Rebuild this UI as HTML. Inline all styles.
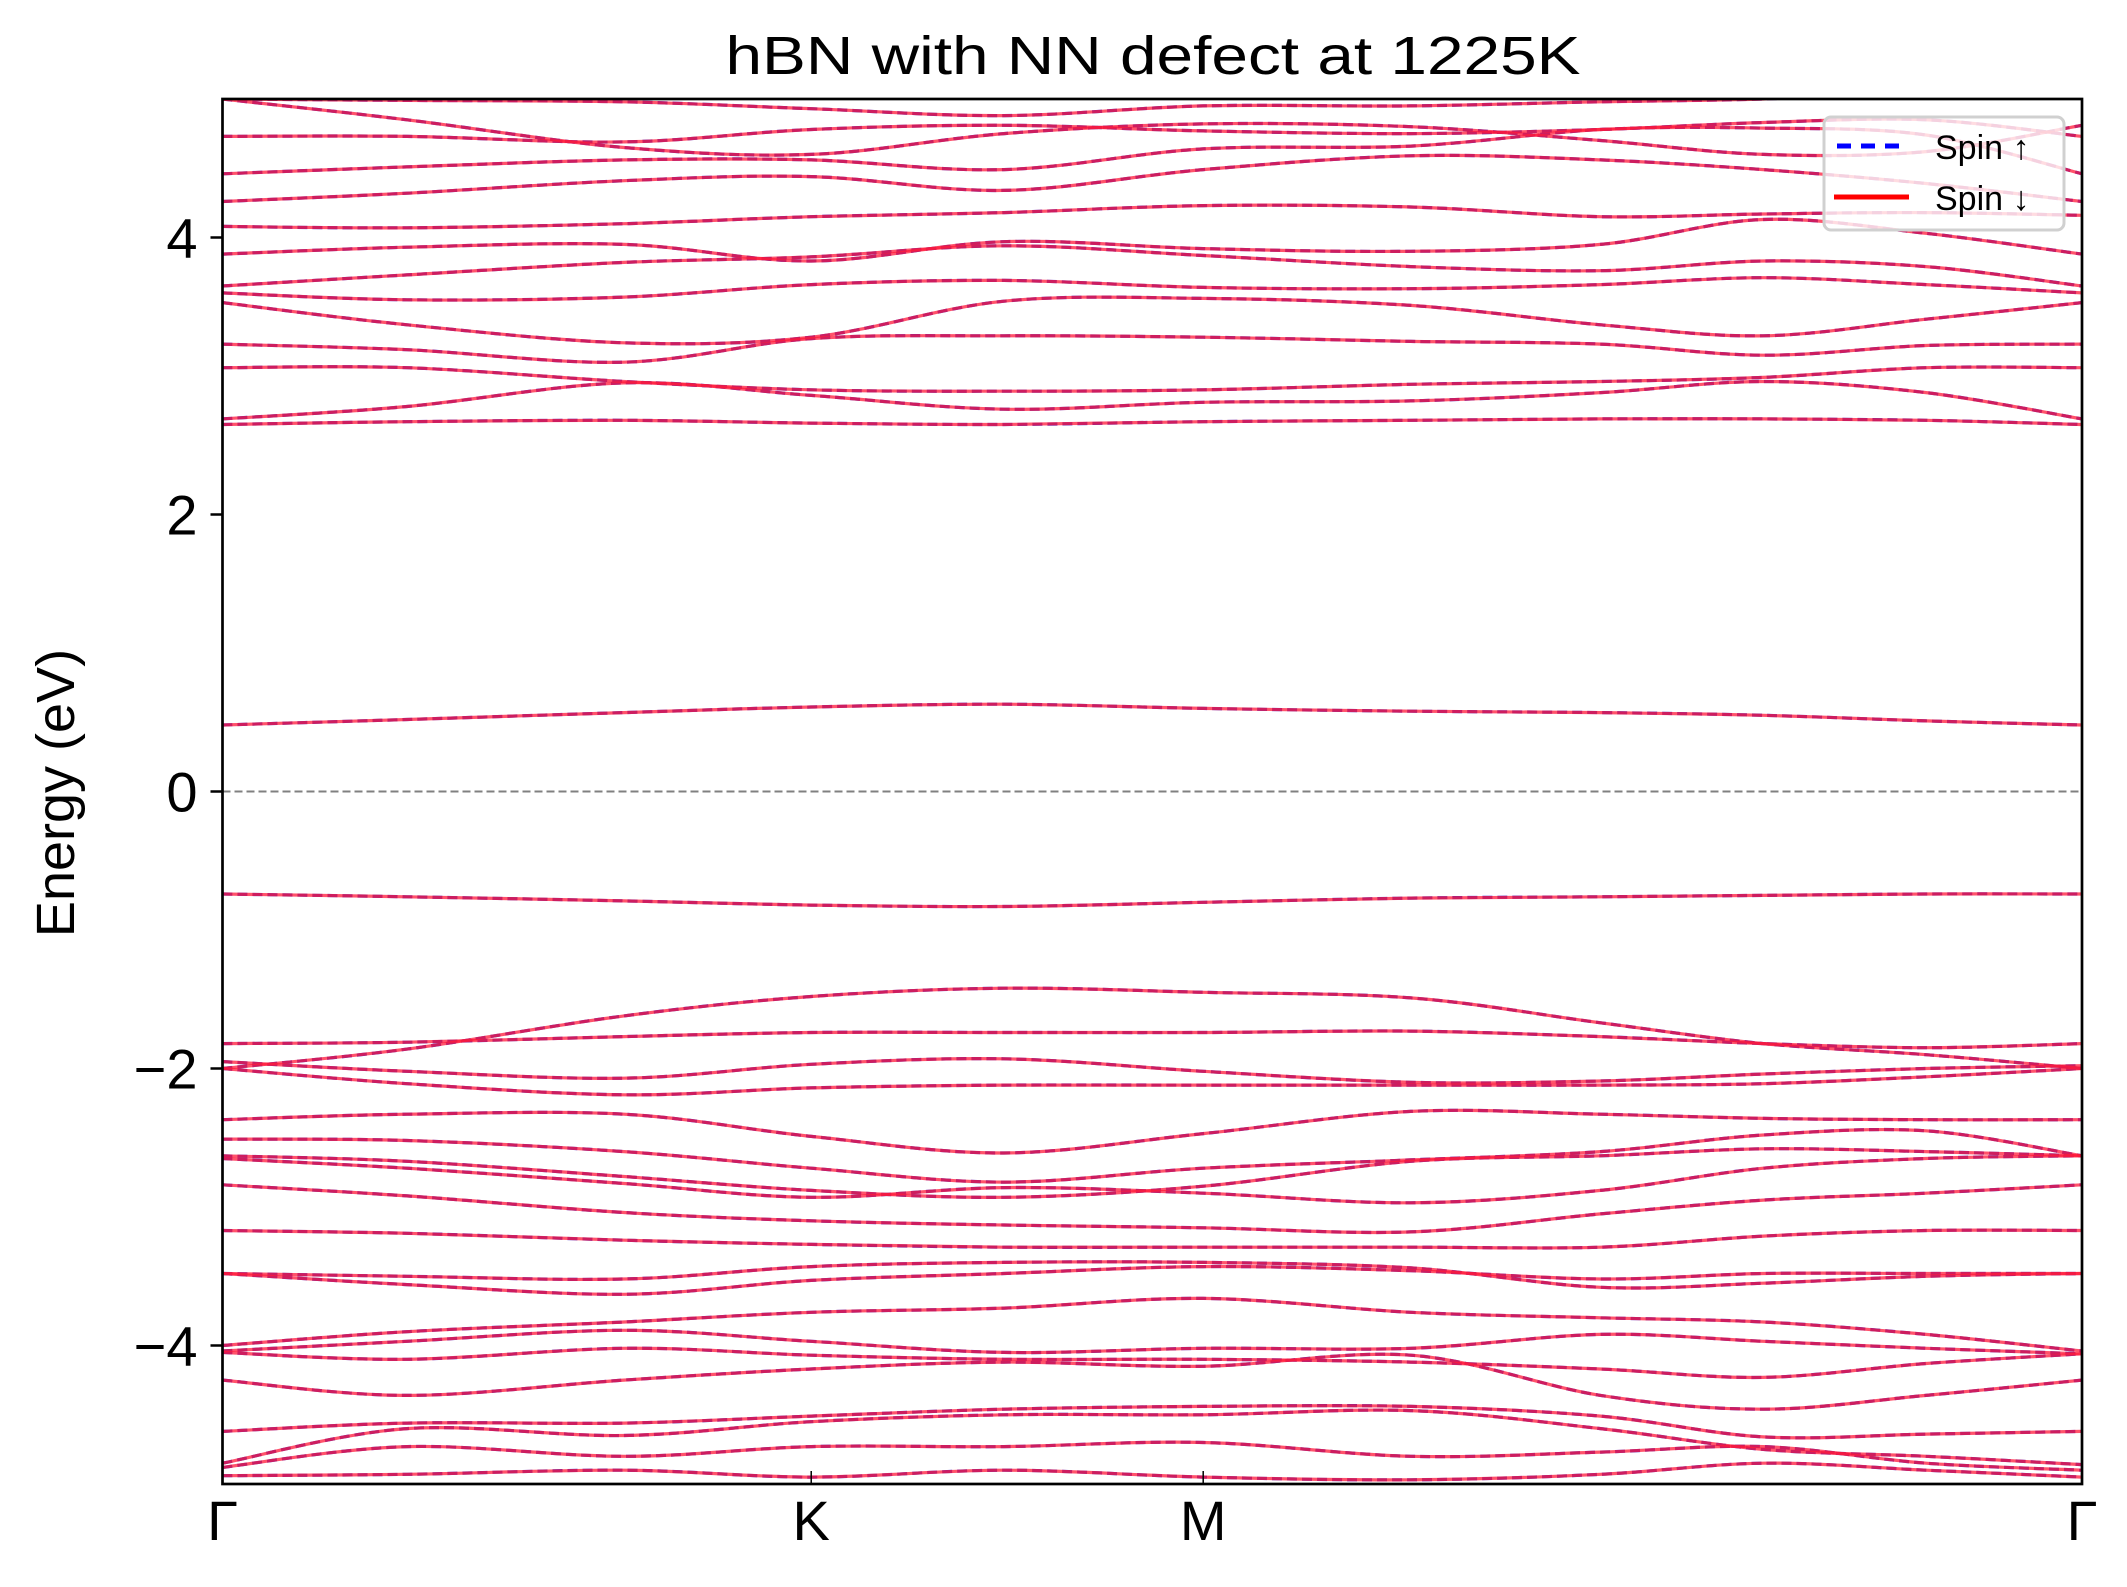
<!DOCTYPE html>
<html><head><meta charset="utf-8"><style>
html,body{margin:0;padding:0;background:#fff;}
svg{display:block;font-family:"Liberation Sans","DejaVu Sans",sans-serif;}
</style></head><body>
<svg id="chart" width="2127" height="1587" viewBox="0 0 2127 1587" xmlns="http://www.w3.org/2000/svg">
<rect width="2127" height="1587" fill="#fff"/>
<text x="1153" y="74" font-size="54" text-anchor="middle" textLength="855" lengthAdjust="spacingAndGlyphs">hBN with NN defect at 1225K</text>
<text transform="translate(74,793) rotate(-90)" font-size="54" text-anchor="middle">Energy (eV)</text>
<g id="bands"></g>
<g id="axes"></g>
<g>
<rect x="1824" y="117" width="240" height="113" rx="7" fill="rgba(255,255,255,0.8)" stroke="#d0d0d0" stroke-width="3"/>
<line x1="1837" y1="146" x2="1906" y2="146" stroke="#0000ff" stroke-width="5" stroke-dasharray="14,10"/>
<text x="1935" y="159" font-size="34">Spin ↑</text>
<line x1="1834" y1="197" x2="1909" y2="197" stroke="#ff0000" stroke-width="5"/>
<text x="1935" y="210" font-size="34">Spin ↓</text>
</g>
</svg>
<script>
const kNodes = [0, 0.0992, 0.2159, 0.3166, 0.4202, 0.5274, 0.639, 0.7411, 0.8286, 0.9161, 1];
const kTickPos = [0, 0.3166, 0.5274, 1];
const kTickLabels = ["Γ", "K", "M", "Γ"];
const yTicks = [-4, -2, 0, 2, 4];
const yTickLabels = ["−4", "−2", "0", "2", "4"];
const bandsUp = [
[0.48,0.52,0.57,0.61,0.63,0.6,0.58,0.57,0.55,0.51,0.48],
[-0.74,-0.76,-0.79,-0.82,-0.83,-0.8,-0.77,-0.76,-0.75,-0.74,-0.74],
[-2.0,-1.86,-1.62,-1.48,-1.42,-1.45,-1.49,-1.67,-1.82,-1.9,-2.0],
[-1.82,-1.81,-1.77,-1.74,-1.74,-1.74,-1.73,-1.77,-1.82,-1.85,-1.82],
[-1.95,-2.02,-2.07,-1.97,-1.93,-2.02,-2.1,-2.09,-2.04,-2.0,-1.98],
[-2.0,-2.11,-2.19,-2.14,-2.12,-2.12,-2.12,-2.12,-2.11,-2.06,-2.0],
[-2.37,-2.33,-2.33,-2.49,-2.61,-2.47,-2.31,-2.33,-2.36,-2.37,-2.37],
[-2.51,-2.52,-2.6,-2.72,-2.82,-2.72,-2.66,-2.6,-2.48,-2.45,-2.63],
[-2.63,-2.67,-2.78,-2.88,-2.93,-2.85,-2.67,-2.63,-2.58,-2.6,-2.63],
[-2.65,-2.72,-2.83,-2.93,-2.86,-2.9,-2.97,-2.88,-2.72,-2.65,-2.63],
[-2.84,-2.92,-3.04,-3.1,-3.13,-3.15,-3.18,-3.05,-2.95,-2.9,-2.84],
[-3.17,-3.19,-3.24,-3.27,-3.29,-3.29,-3.29,-3.29,-3.21,-3.17,-3.17],
[-3.48,-3.56,-3.63,-3.53,-3.48,-3.43,-3.46,-3.52,-3.48,-3.48,-3.48],
[-3.48,-3.5,-3.52,-3.43,-3.4,-3.4,-3.44,-3.58,-3.55,-3.5,-3.48],
[-4.0,-3.9,-3.83,-3.76,-3.73,-3.66,-3.76,-3.8,-3.83,-3.92,-4.04],
[-4.04,-3.97,-3.89,-3.97,-4.05,-4.02,-4.02,-3.92,-3.97,-4.02,-4.06],
[-4.05,-4.1,-4.02,-4.07,-4.1,-4.1,-4.12,-4.17,-4.23,-4.13,-4.06],
[-4.25,-4.36,-4.25,-4.17,-4.12,-4.15,-4.07,-4.36,-4.46,-4.36,-4.25],
[-4.62,-4.56,-4.56,-4.51,-4.46,-4.44,-4.44,-4.51,-4.66,-4.64,-4.62],
[-4.85,-4.6,-4.65,-4.55,-4.5,-4.5,-4.47,-4.6,-4.75,-4.8,-4.86],
[-4.88,-4.73,-4.8,-4.73,-4.73,-4.7,-4.8,-4.77,-4.73,-4.85,-4.9],
[-4.94,-4.93,-4.9,-4.95,-4.9,-4.95,-4.97,-4.93,-4.85,-4.9,-4.95],
[2.65,2.67,2.68,2.66,2.65,2.67,2.68,2.69,2.69,2.68,2.65],
[2.69,2.78,2.95,2.86,2.76,2.81,2.82,2.88,2.96,2.88,2.69],
[3.06,3.06,2.96,2.9,2.89,2.9,2.94,2.96,2.99,3.06,3.06],
[3.23,3.19,3.1,3.27,3.29,3.28,3.25,3.23,3.15,3.22,3.23],
[3.53,3.37,3.24,3.28,3.54,3.56,3.51,3.37,3.29,3.41,3.53],
[3.6,3.55,3.57,3.66,3.69,3.64,3.63,3.66,3.71,3.66,3.6],
[3.65,3.73,3.82,3.86,3.94,3.87,3.79,3.76,3.83,3.79,3.65],
[3.88,3.93,3.95,3.83,3.97,3.92,3.9,3.95,4.13,4.03,3.88],
[4.08,4.07,4.1,4.15,4.18,4.23,4.22,4.15,4.17,4.18,4.16],
[4.26,4.32,4.41,4.44,4.34,4.49,4.59,4.56,4.49,4.39,4.26],
[4.46,4.51,4.56,4.56,4.49,4.64,4.66,4.78,4.79,4.74,4.46],
[4.73,4.73,4.69,4.78,4.81,4.77,4.75,4.78,4.83,4.85,4.73],
[5.0,4.85,4.65,4.6,4.75,4.82,4.8,4.7,4.6,4.62,4.81],
[5.0,4.99,4.98,4.93,4.88,4.95,4.95,4.98,5.0,5.05,5.05]
];
const bandsDown = bandsUp;

const L = 222.5, R = 2082, T = 99, B = 1484, yMin = -5, yMax = 5;
function xs(k){ return L + k * (R - L); }
function ys(e){ return B - (e - yMin) / (yMax - yMin) * (B - T); }
const NS = "http://www.w3.org/2000/svg";
function pathFor(vals){
  const pts = vals.map((v,i)=>[xs(kNodes[i]), ys(v)]);
  let d = "M" + pts[0][0].toFixed(1) + "," + pts[0][1].toFixed(1);
  for (let i=0;i<pts.length-1;i++){
    const p0 = pts[Math.max(0,i-1)], p1 = pts[i], p2 = pts[i+1], p3 = pts[Math.min(pts.length-1,i+2)];
    const c1x = p1[0] + (p2[0]-p0[0])/6, c1y = p1[1] + (p2[1]-p0[1])/6;
    const c2x = p2[0] - (p3[0]-p1[0])/6, c2y = p2[1] - (p3[1]-p1[1])/6;
    d += " C" + c1x.toFixed(1)+","+c1y.toFixed(1)+" "+c2x.toFixed(1)+","+c2y.toFixed(1)+" "+p2[0].toFixed(1)+","+p2[1].toFixed(1);
  }
  return d;
}
const svg = document.getElementById("chart");
const defs = document.createElementNS(NS,"defs");
defs.innerHTML = '<clipPath id="plotclip"><rect x="'+L+'" y="'+T+'" width="'+(R-L)+'" height="'+(B-T)+'"/></clipPath>';
svg.insertBefore(defs, svg.firstChild);
const bandsG = document.getElementById("bands");
bandsG.setAttribute("clip-path","url(#plotclip)");

const zl = document.createElementNS(NS,"line");


zl.setAttribute("x1", L); zl.setAttribute("x2", R);
zl.setAttribute("y1", ys(0)); zl.setAttribute("y2", ys(0));
zl.setAttribute("stroke","#808080"); zl.setAttribute("stroke-width","2");
zl.setAttribute("stroke-dasharray","8,4");
bandsG.appendChild(zl);

bandsUp.forEach((b,i)=>{
  const p = document.createElementNS(NS,"path");
  
  
  p.setAttribute("d", pathFor(b));
  p.setAttribute("fill","none"); p.setAttribute("stroke","#3a2bd0");
  p.setAttribute("stroke-width","3.2"); p.setAttribute("stroke-dasharray","10,5");
  bandsG.appendChild(p);
});
bandsDown.forEach((b,i)=>{
  const p = document.createElementNS(NS,"path");
  
  
  p.setAttribute("d", pathFor(b));
  p.setAttribute("fill","none"); p.setAttribute("stroke","#ff1a3a");
  p.setAttribute("stroke-opacity","0.75");
  p.setAttribute("stroke-width","3.2");
  bandsG.appendChild(p);
});

const axesG = document.getElementById("axes");
const frame = document.createElementNS(NS,"rect");


frame.setAttribute("x",L); frame.setAttribute("y",T);
frame.setAttribute("width",R-L); frame.setAttribute("height",B-T);
frame.setAttribute("fill","none"); frame.setAttribute("stroke","#000"); frame.setAttribute("stroke-width","2.7");
axesG.appendChild(frame);

yTicks.forEach((v,i)=>{
  const t = document.createElementNS(NS,"line");
  
  
  t.setAttribute("x1",L-12); t.setAttribute("x2",L);
  t.setAttribute("y1",ys(v)); t.setAttribute("y2",ys(v));
  t.setAttribute("stroke","#000"); t.setAttribute("stroke-width","2.5");
  axesG.appendChild(t);
  const tx = document.createElementNS(NS,"text");
  
  
  tx.setAttribute("x",L-25); tx.setAttribute("y",ys(v)+20);
  tx.setAttribute("font-size","56"); tx.setAttribute("text-anchor","end");
  tx.textContent = yTickLabels[i];
  axesG.appendChild(tx);
});
kTickPos.forEach((k,i)=>{
  const t = document.createElementNS(NS,"line");
  
  
  t.setAttribute("x1",xs(k)); t.setAttribute("x2",xs(k));
  t.setAttribute("y1",B-13); t.setAttribute("y2",B);
  t.setAttribute("stroke","#000"); t.setAttribute("stroke-width","1.5");
  axesG.appendChild(t);
  const tx = document.createElementNS(NS,"text");
  
  
  tx.setAttribute("x",xs(k)); tx.setAttribute("y",1540);
  tx.setAttribute("font-size","56"); tx.setAttribute("text-anchor","middle");
  tx.textContent = kTickLabels[i];
  axesG.appendChild(tx);
});
</script>
</body></html>
